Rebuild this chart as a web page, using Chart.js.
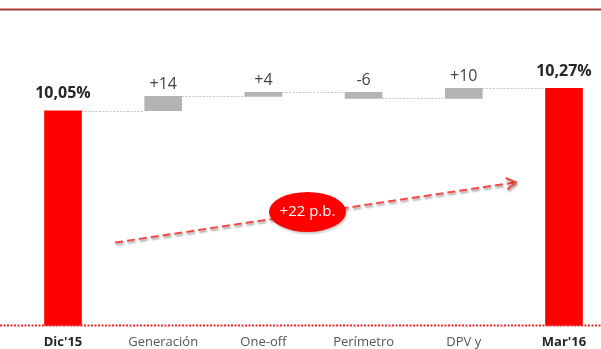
<!DOCTYPE html>
<html>
<head>
<meta charset="utf-8">
<script src="https://cdn.jsdelivr.net/npm/chart.js@4"></script>
<style>
  html, body { margin: 0; padding: 0; background: #fff; }
  #wrap { width: 601px; height: 349px; position: relative; }
</style>
</head>
<body>
<div id="wrap"><canvas id="myChart"></canvas></div>
<script>
// categories and values
const categories = ["Dic'15", 'Generación', 'One-off', 'Perímetro', 'DPV y', "Mar'16"];
const startRatio = 10.05;          // % at Dic'15
const endRatio = 10.27;            // % at Mar'16
const changesBp = [14, 4, -6, 10]; // p.b. steps
const valueLabels = ['10,05%', '+14', '+4', '-6', '+10', '10,27%'];
const totalLabel = '+22 p.b.';
const totalIdx = [0, 5];           // bars shown as totals (red, bold)
const yFloor = 7.95;
const yCeil = 10.84;

// build floating bars [from, to]
let bars = [];
let levels = [];
let running = startRatio;
bars.push([yFloor, startRatio]);
for (let i = 0; i < changesBp.length; i++) {
    let next = Math.round((running + changesBp[i] / 100) * 100) / 100;
    bars.push([running, next]);
    running = next;
}
bars.push([yFloor, endRatio]);
// connector level leaving each bar = its end value
for (let i = 0; i < bars.length - 1; i++) {
    levels.push(bars[i][1]);
}

function isTotal(i) {
    return totalIdx.indexOf(i) >= 0;
}

const decoPlugin = {
    id: 'deco',
    beforeDatasetsDraw(chart) {
        const c = chart.ctx;
        const ys = chart.scales.y;
        const W = chart.width;
        c.save();
        // top rule
        c.strokeStyle = '#a33c3c';
        c.lineWidth = 2;
        c.beginPath();
        c.moveTo(0, 9.5);
        c.lineTo(W, 9.5);
        c.stroke();
        // connectors
        const meta = chart.getDatasetMeta(0);
        c.strokeStyle = '#c4c4c4';
        c.lineWidth = 1;
        c.setLineDash([2, 1.5]);
        for (let i = 0; i < levels.length; i++) {
            const a = meta.data[i], b = meta.data[i + 1];
            const y = Math.round(ys.getPixelForValue(levels[i])) + 0.5;
            c.beginPath();
            c.moveTo(a.x + a.width / 2, y);
            c.lineTo(b.x - b.width / 2, y);
            c.stroke();
        }
        c.restore();
    },
    afterDatasetsDraw(chart) {
        const c = chart.ctx;
        const xs = chart.scales.x;
        const ys = chart.scales.y;
        const W = chart.width;
        const meta = chart.getDatasetMeta(0);
        c.save();
        // dotted baseline
        const yb = ys.getPixelForValue(yFloor);
        c.strokeStyle = '#e8262b';
        c.lineWidth = 2;
        c.setLineDash([2, 1.5]);
        c.beginPath();
        c.moveTo(0, yb);
        c.lineTo(W, yb);
        c.stroke();
        c.setLineDash([]);
        // value labels
        c.textAlign = 'center';
        c.textBaseline = 'middle';
        for (let i = 0; i < meta.data.length; i++) {
            const el = meta.data[i];
            const top = Math.min(el.y, el.base);
            if (isTotal(i)) {
                c.font = 'bold 16px "Open Sans"';
                c.fillStyle = '#262626';
                c.fillText(valueLabels[i], el.x, top - 17);
            } else {
                c.font = '16px "Open Sans"';
                c.fillStyle = '#444';
                c.fillText(valueLabels[i], el.x, top - 12);
            }
        }
        // dashed trend arrow
        const x0 = xs.getPixelForValue(0.52), y0 = ys.getPixelForValue(8.76);
        const x1 = xs.getPixelForValue(4.52), y1 = ys.getPixelForValue(9.35);
        c.shadowColor = 'rgba(0,0,0,0.35)';
        c.shadowBlur = 2;
        c.shadowOffsetX = 1;
        c.shadowOffsetY = 2;
        c.strokeStyle = '#f24848';
        c.lineWidth = 2;
        c.setLineDash([8, 4]);
        c.beginPath();
        c.moveTo(x0, y0);
        c.lineTo(x1, y1);
        c.stroke();
        c.setLineDash([]);
        const ang = Math.atan2(y1 - y0, x1 - x0);
        c.beginPath();
        c.moveTo(x1 - 11 * Math.cos(ang - 0.55), y1 - 11 * Math.sin(ang - 0.55));
        c.lineTo(x1, y1);
        c.lineTo(x1 - 11 * Math.cos(ang + 0.55), y1 - 11 * Math.sin(ang + 0.55));
        c.stroke();
        // ellipse badge
        const ex = xs.getPixelForValue(2.44), ey = ys.getPixelForValue(9.06);
        c.shadowColor = 'rgba(0,0,0,0.2)';
        c.fillStyle = '#ff0000';
        c.beginPath();
        c.ellipse(ex, ey, 38.5, 20, 0, 0, Math.PI * 2);
        c.fill();
        c.shadowColor = 'transparent';
        c.fillStyle = '#ffffff';
        c.font = '15px "Open Sans"';
        c.fillText(totalLabel, ex, ey);
        c.restore();
    }
};

var ctx = document.getElementById('myChart');
var chart = new Chart(ctx, {
    type: 'bar',
    data: {
        labels: categories,
        datasets: [
            {
                data: bars,
                backgroundColor: categories.map((c, i) => isTotal(i) ? '#ff0000' : '#b3b3b3'),
                borderWidth: 0,
                barThickness: 37,
                borderSkipped: false,
                clip: false
            }
        ]
    },
    options: {
        responsive: true,
        maintainAspectRatio: false,
        animation: false,
        layout: { padding: { left: 63, right: 37, top: 30, bottom: -10 } },
        scales: {
            x: {
                offset: false,
                grid: { display: false, drawTicks: false },
                border: { display: false },
                ticks: {
                    autoSkip: false,
                    maxRotation: 0,
                    padding: 9,
                    font: (c) => ({ family: 'Open Sans', size: 13, weight: isTotal(c.index) ? 'bold' : 'normal' }),
                    color: (c) => isTotal(c.index) ? '#262626' : '#555555'
                }
            },
            y: {
                display: false,
                min: yFloor,
                max: yCeil
            }
        },
        plugins: {
            legend: { display: false },
            tooltip: { enabled: false }
        }
    },
    plugins: [decoPlugin]
});
</script>
</body>
</html>
